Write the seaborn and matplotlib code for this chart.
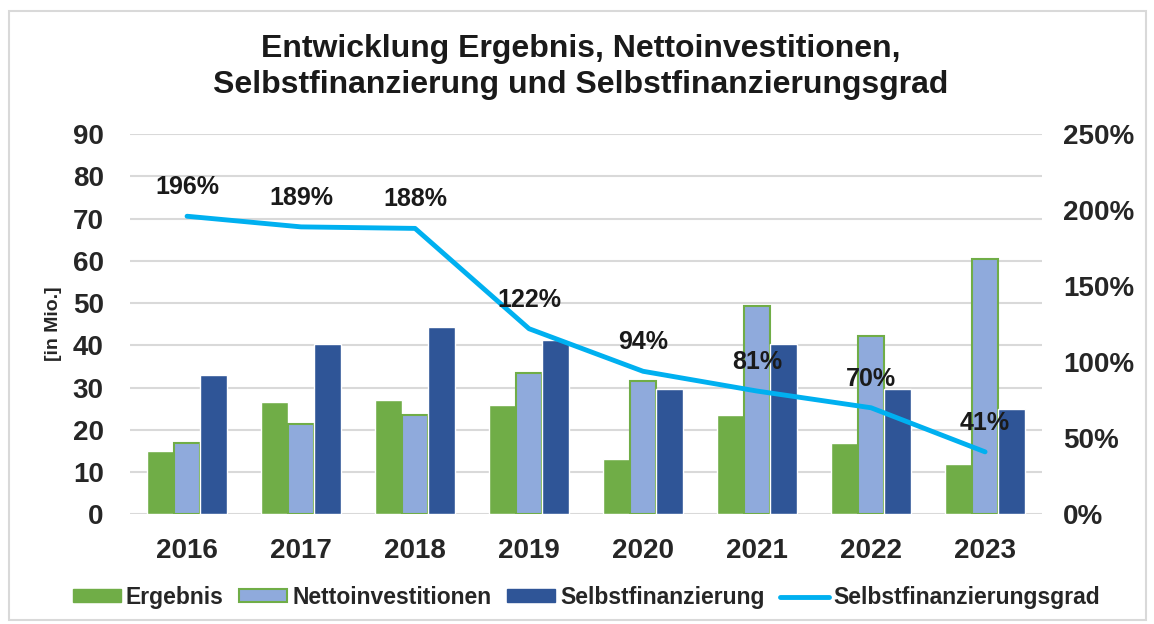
#
#  Entwicklung Ergebnis, Nettoinvestitionen, Selbstfinanzierung
#  bars in Mio. with the Selbstfinanzierungsgrad on a second axis
#

import numpy as np
import pandas as pd
import matplotlib.pyplot as plt
from matplotlib.patches import Patch, Rectangle
from matplotlib.lines import Line2D
import seaborn as sns

sns.set_style("white")
plt.rcParams['font.family'] = ['Liberation Sans', 'DejaVu Sans']
plt.rcParams['font.weight'] = 'bold'

#
#  Data
#

years = ['2016', '2017', '2018', '2019', '2020', '2021', '2022', '2023']
ergebnis = [15.0, 26.6, 27.1, 25.9, 13.1, 23.6, 16.9, 11.8]
netto = [16.8, 21.3, 23.4, 33.4, 31.5, 49.4, 42.2, 60.4]
selbst = [33.0, 40.4, 44.3, 41.3, 29.7, 40.2, 29.7, 25.0]
grad = [196, 189, 188, 122, 94, 81, 70, 41]

series = ['Ergebnis', 'Nettoinvestitionen', 'Selbstfinanzierung']
colors = ['#70AD47', '#8FAADC', '#2F5597']
line_color = '#00B0F0'

#  long form table for seaborn

bars = pd.DataFrame({'year': years * 3,
                     'series': np.repeat(series, len(years)),
                     'value': ergebnis + netto + selbst})

#%%

fig = plt.figure(figsize=(11.54, 6.24), dpi=100)
ax1 = fig.add_axes([0.1127, 0.176, 0.7903, 0.609])

sns.barplot(data=bars, x='year', y='value', hue='series', palette=colors,
            width=0.7, gap=0, saturation=1, legend=False, ax=ax1)

#  Nettoinvestitionen bars have a green outline

for p in ax1.containers[1]:
    p.set_edgecolor(colors[0])
    p.set_linewidth(1.5)

ax1.set_ylim(0, 90)
ax1.set_yticks(range(0, 91, 10))
ax1.set_xlim(-0.5, 7.5)
ax1.yaxis.grid(True, color='#d9d9d9', linewidth=1.5)
ax1.set_axisbelow(True)
ax1.set_xlabel("")
ax1.set_ylabel("[in Mio.]", fontsize=14, fontweight='bold', labelpad=8)
ax1.tick_params(axis='x', labelsize=20, length=0, pad=17)
ax1.tick_params(axis='y', labelsize=20, length=0, pad=19)
for s in ax1.spines.values():
    s.set_visible(False)

#
#  Selbstfinanzierungsgrad on the right axis
#

ax2 = ax1.twinx()
sns.lineplot(x=np.arange(len(years)), y=grad, color=line_color,
             linewidth=3.5, ax=ax2)
ax2.set_ylim(0, 250)
ax2.set_yticks(range(0, 251, 50))
ax2.set_yticklabels([f"{v}%" for v in range(0, 251, 50)])
ax2.tick_params(axis='y', labelsize=20, length=0, pad=15)
for s in ax2.spines.values():
    s.set_visible(False)

for i, g in enumerate(grad):
    ax2.annotate(f"{g}%", (i, g), xytext=(0, 21), textcoords='offset points',
                 ha='center', va='center', fontsize=18, fontweight='bold',
                 color='#1a1a1a')

fig.text(0.503, 1 - 67 / 624,
         "Entwicklung Ergebnis, Nettoinvestitionen,\n"
         "Selbstfinanzierung und Selbstfinanzierungsgrad",
         ha='center', va='center', fontsize=23, fontweight='bold',
         linespacing=1.3, color='#1a1a1a')

#  legend along the bottom

handles = [Patch(facecolor=colors[0], edgecolor=colors[0]),
           Patch(facecolor=colors[1], edgecolor=colors[0], linewidth=1.5),
           Patch(facecolor=colors[2], edgecolor=colors[2]),
           Line2D([], [], color=line_color, linewidth=3.5)]
fig.legend(handles, series + ['Selbstfinanzierungsgrad'], loc='center',
           bbox_to_anchor=(0.508, 0.043), ncol=4, frameon=False,
           fontsize=16.5, handlelength=2.1, handleheight=0.45,
           handletextpad=0.2, columnspacing=0.7)

#  thin grey frame round the whole chart

fig.patches.append(Rectangle((0.008, 0.006), 0.985, 0.976, transform=fig.transFigure,
                             fill=False, edgecolor='#d9d9d9', linewidth=1.5))

fig.savefig('out.png', dpi=100)
